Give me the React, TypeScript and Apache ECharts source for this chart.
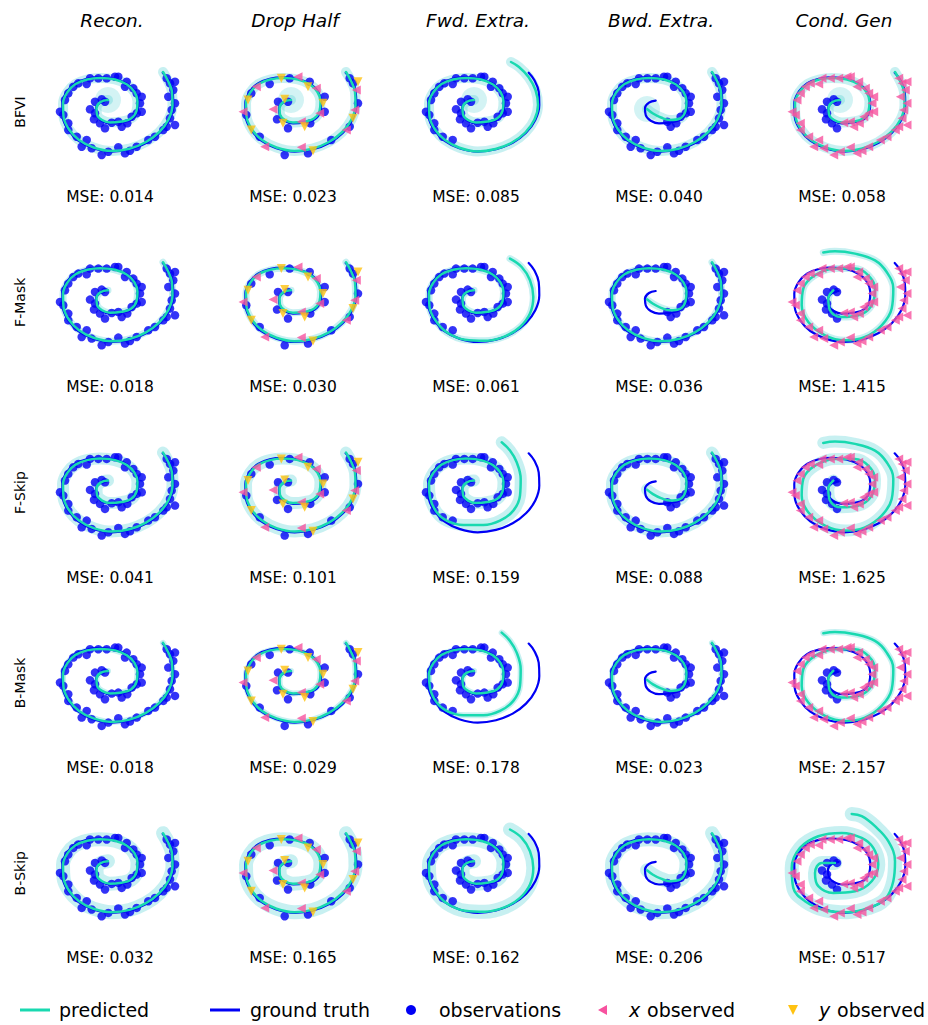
import React, { useEffect, useRef } from "react";
import * as echarts from "echarts";

const methods = ["BFVI", "F-Mask", "F-Skip", "B-Mask", "B-Skip"];
const tasks = ["Recon.", "Drop Half", "Fwd. Extra.", "Bwd. Extra.", "Cond. Gen"];
const mseValues = [
  ["0.014", "0.023", "0.085", "0.040", "0.058"],
  ["0.018", "0.030", "0.061", "0.036", "1.415"],
  ["0.041", "0.101", "0.159", "0.088", "1.625"],
  ["0.018", "0.029", "0.178", "0.023", "2.157"],
  ["0.032", "0.165", "0.162", "0.206", "0.517"],
];

const groundTruth = [
  [-0.33, 0.93], [-1.0, 0.73], [-1.4, 0.17], [-1.33, -0.5], [-0.83, -1.07], [0.0, -1.33],
  [1.17, -1.23], [2.17, -0.93], [2.73, -0.17], [2.83, 0.83], [2.5, 1.83], [1.73, 2.6],
  [0.5, 3.1], [-1.0, 3.27], [-2.33, 3.13], [-3.5, 2.67], [-4.33, 1.83], [-4.77, 0.67],
  [-4.73, -0.67], [-4.17, -2.0], [-3.17, -3.07], [-1.67, -3.83], [0.17, -4.17], [2.0, -3.93],
  [3.67, -3.27], [5.0, -2.27], [5.93, -1.0], [6.33, 0.5], [6.27, 1.83], [5.83, 3.0], [5.27, 3.73],
];

const predFit = [
  [-0.2, 1.0], [-0.95, 0.8], [-1.35, 0.2], [-1.3, -0.45], [-0.8, -1.0], [0.0, -1.25],
  [1.15, -1.15], [2.1, -0.85], [2.65, -0.1], [2.75, 0.85], [2.45, 1.8], [1.7, 2.55],
  [0.5, 3.05], [-1.0, 3.2], [-2.3, 3.05], [-3.45, 2.6], [-4.25, 1.8], [-4.7, 0.65],
  [-4.65, -0.65], [-4.1, -1.95], [-3.1, -3.0], [-1.65, -3.75], [0.15, -4.1], [1.95, -3.87],
  [3.6, -3.2], [4.93, -2.2], [5.85, -0.95], [6.25, 0.5], [6.2, 1.8], [5.78, 2.95], [5.3, 3.8],
];

const predFwdBFVI = [
  [-0.2, 1.0], [-0.95, 0.8], [-1.35, 0.2], [-1.3, -0.45], [-0.8, -1.0], [0.0, -1.25],
  [1.15, -1.15], [2.1, -0.85], [2.65, -0.1], [2.75, 0.85], [2.45, 1.8], [1.7, 2.55],
  [0.5, 3.05], [-1.0, 3.2], [-2.3, 3.05], [-3.45, 2.6], [-4.25, 1.8], [-4.7, 0.65],
  [-4.65, -0.65], [-4.1, -1.95], [-3.1, -3.0], [-1.65, -3.78], [0.15, -4.15], [1.95, -3.9],
  [3.6, -3.25], [4.93, -2.25], [5.85, -0.95], [6.2, 0.5], [5.95, 2.0], [5.25, 3.3], [4.3, 4.3], [3.5, 4.8],
];

const predFwdMild = [
  [-0.2, 1.0], [-0.95, 0.8], [-1.35, 0.2], [-1.3, -0.45], [-0.8, -1.0], [0.0, -1.25],
  [1.15, -1.15], [2.1, -0.85], [2.65, -0.1], [2.75, 0.85], [2.45, 1.8], [1.7, 2.55],
  [0.5, 3.05], [-1.0, 3.2], [-2.3, 3.05], [-3.45, 2.6], [-4.25, 1.8], [-4.7, 0.65],
  [-4.65, -0.65], [-4.1, -1.95], [-2.93, -3.2], [-1.1, -3.95], [0.9, -4.05], [2.9, -3.6],
  [4.4, -2.67], [5.4, -1.33], [5.73, 0.33], [5.4, 2.0], [4.57, 3.33], [3.4, 4.17],
];

const predFwdStrong = [
  [-0.2, 1.0], [-0.95, 0.8], [-1.35, 0.2], [-1.3, -0.45], [-0.8, -1.0], [0.0, -1.25],
  [1.15, -1.15], [2.1, -0.85], [2.65, -0.1], [2.75, 0.85], [2.45, 1.8], [1.7, 2.55],
  [0.5, 3.05], [-1.0, 3.2], [-2.3, 3.05], [-3.45, 2.6], [-4.25, 1.8], [-4.7, 0.65],
  [-4.6, -0.7], [-3.93, -2.17], [-2.93, -3.0], [-1.27, -3.43], [0.73, -3.43], [2.4, -3.0],
  [3.73, -2.0], [4.4, -0.5], [4.47, 1.17], [4.07, 2.83], [3.4, 4.0], [2.57, 4.83],
];

const predBwd = [
  [-1.2, 0.1], [-0.6, -0.35], [0.2, -0.75], [1.1, -1.0], [2.1, -0.85], [2.65, -0.1],
  [2.75, 0.85], [2.45, 1.8], [1.7, 2.55], [0.5, 3.05], [-1.0, 3.2], [-2.3, 3.05],
  [-3.45, 2.6], [-4.25, 1.8], [-4.7, 0.65], [-4.65, -0.65], [-4.1, -1.95], [-3.1, -3.0],
  [-1.65, -3.75], [0.15, -4.1], [1.95, -3.87], [3.6, -3.2], [4.93, -2.2], [5.85, -0.95],
  [6.25, 0.5], [6.2, 1.8], [5.78, 2.95], [5.3, 3.8],
];

const predCond = [
  [-0.87, 1.0], [-1.37, 0.17], [-1.2, -1.0], [-0.03, -1.67], [1.63, -1.5], [2.97, -0.5],
  [3.3, 1.17], [2.63, 2.5], [1.3, 3.17], [-0.7, 3.17], [-2.7, 2.5], [-3.87, 1.17],
  [-4.03, -0.5], [-3.37, -2.17], [-1.7, -3.5], [0.3, -4.0], [2.3, -3.67], [3.97, -2.5],
  [4.97, -0.83], [5.13, 1.17], [4.47, 2.83], [3.3, 4.0], [1.3, 4.67], [-0.7, 4.9], [-1.87, 4.77],
];

const predCondSkip = [
  [-0.7, 0.83], [-2.03, 0.83], [-2.7, -0.17], [-2.37, -1.5], [-0.87, -2.17], [1.3, -2.0],
  [2.97, -1.0], [3.63, 0.67], [3.13, 2.33], [1.97, 3.33], [-0.03, 3.83], [-2.37, 3.5],
  [-4.2, 2.33], [-5.03, 0.33], [-4.87, -1.67], [-3.7, -3.0], [-1.7, -3.9], [0.5, -4.1],
  [2.6, -3.7], [4.3, -2.8], [5.13, -1.0], [5.3, 1.0], [4.63, 3.0], [3.3, 4.5], [1.97, 5.5], [0.97, 5.73],
];

const observations = [
  [-0.5, 0.83], [-0.83, 1.07], [-1.5, 0.83], [-2.0, 0.07], [-1.5, -0.33], [-1.6, -0.93],
  [-1.0, -1.33], [-0.5, -1.83], [0.17, -1.27], [0.83, -1.17], [1.17, -1.67], [1.73, -1.33],
  [2.17, -0.67], [2.67, -0.33], [3.17, -0.17], [3.0, 0.67], [3.17, 1.33], [2.67, 1.67],
  [2.33, 2.17], [1.5, 2.33], [1.67, 2.83], [0.83, 3.33], [0.5, 3.33], [-0.33, 3.17],
  [-1.17, 3.17], [-2.0, 3.17], [-2.33, 2.6], [-3.17, 2.67], [-3.67, 2.33], [-4.17, 1.67],
  [-4.5, 1.0], [-5.0, -0.17], [-4.67, -0.5], [-4.17, -1.33], [-4.17, -2.0], [-3.33, -2.67],
  [-2.33, -3.0], [-2.83, -3.67], [-1.83, -3.83], [-0.83, -4.5], [-0.17, -4.17], [0.83, -3.73],
  [1.5, -4.33], [2.0, -4.07], [2.67, -3.67], [3.83, -3.0], [4.5, -2.67], [5.33, -2.0],
  [5.67, -1.67], [6.5, -1.5], [6.0, -0.83], [6.17, 0.0], [6.5, 0.67], [5.83, 1.33],
  [6.33, 2.0], [6.0, 2.67], [6.5, 2.83], [5.67, 3.17],
];

// Drop-half masks (indices into observations)
const dropFullIdx = [0, 2, 5, 7, 11, 14, 16, 20, 23, 26, 29, 32, 35, 39, 42, 45, 48, 52, 55, 57];
const dropXOnlyIdx = [3, 9, 13, 18, 22, 28, 31, 37, 41, 47, 51, 54];
const dropYOnlyIdx = [1, 6, 10, 15, 19, 24, 30, 34, 43, 50, 56];
const fwdObservedCount = 37;
const bwdObservedStart = 9;
const condFullCount = 8;

const predByKey: Record<string, number[][]> = {
  fit: predFit,
  fwdBFVI: predFwdBFVI,
  fwdMild: predFwdMild,
  fwdStrong: predFwdStrong,
  bwd: predBwd,
  cond: predCond,
  condSkip: predCondSkip,
};

const predChoice = [
  ["fit", "fit", "fwdBFVI", "bwd", "fit"],
  ["fit", "fit", "fwdMild", "bwd", "cond"],
  ["fit", "fit", "fwdStrong", "bwd", "cond"],
  ["fit", "fit", "fwdStrong", "bwd", "cond"],
  ["fit", "fit", "fwdMild", "bwd", "condSkip"],
];

const FONT = '"DejaVu Sans", Verdana, sans-serif';
const C_PRED = "#19d9b0";
const C_BAND = "rgba(70, 205, 210, 0.30)";
const C_GT = "#0000f5";
const C_OBS = "#0000f5";
const C_XOBS = "#f7529f";
const C_YOBS = "#ffc211";
const SYM_LEFT = "path://M0,5L10,0L10,10Z";
const SYM_DOWN = "path://M0,0L10,0L5,10Z";

function pick(idx: number[]) {
  return idx.map((i) => observations[i]);
}

export default function App() {
  const ref = useRef<HTMLDivElement>(null);

  useEffect(() => {
    if (!ref.current) return;
    const chart = echarts.init(ref.current, undefined, { renderer: "svg" });

    const colX = 183;
    const rowY = 190.3;
    const bandWidth = [10, 7, 12, 6, 14];

    const grids: any[] = [];
    const xAxes: any[] = [];
    const yAxes: any[] = [];
    const series: any[] = [];
    const graphics: any[] = [];

    for (let r = 0; r < 5; r++) {
      for (let c = 0; c < 5; c++) {
        const i = r * 5 + c;
        grids.push({ left: 35 + c * colX, top: 45 + r * rowY, width: 155, height: 120 });
        xAxes.push({ gridIndex: i, type: "value", min: -7.5, max: 8, show: false });
        yAxes.push({ gridIndex: i, type: "value", min: -5.5, max: 6.5, show: false });

        const pred = predByKey[predChoice[r][c]];
        const base = { xAxisIndex: i, yAxisIndex: i, silent: true };

        // uncertainty band
        series.push({
          ...base,
          type: "line",
          data: pred,
          smooth: 0.4,
          symbol: "none",
          lineStyle: { color: C_BAND, width: bandWidth[r], cap: "round", join: "round" },
          z: 1,
        });
        if (r === 0) {
          series.push({
            ...base,
            type: "scatter",
            data: [pred[0]],
            symbol: "circle",
            symbolSize: 26,
            itemStyle: { color: "rgba(70, 205, 210, 0.30)" },
            z: 1,
          });
        }
        // ground truth
        series.push({
          ...base,
          type: "line",
          data: groundTruth,
          smooth: 0.4,
          symbol: "none",
          lineStyle: { color: C_GT, width: 2.2, cap: "round" },
          z: 2,
        });

        // observations
        let full: number[][] = [];
        let xOnly: number[][] = [];
        let yOnly: number[][] = [];
        if (c === 0) full = observations;
        else if (c === 1) {
          full = pick(dropFullIdx);
          xOnly = pick(dropXOnlyIdx);
          yOnly = pick(dropYOnlyIdx);
        } else if (c === 2) full = observations.slice(0, fwdObservedCount);
        else if (c === 3) full = observations.slice(bwdObservedStart);
        else {
          full = observations.slice(0, condFullCount);
          xOnly = observations.slice(condFullCount);
        }
        series.push({
          ...base,
          type: "scatter",
          data: full,
          symbol: "circle",
          symbolSize: 8.5,
          itemStyle: { color: C_OBS },
          z: 3,
        });
        // predicted
        series.push({
          ...base,
          type: "line",
          data: pred,
          smooth: 0.4,
          symbol: "none",
          lineStyle: { color: C_PRED, width: 2.5, cap: "round", join: "round" },
          z: 4,
        });
        if (xOnly.length) {
          series.push({
            ...base,
            type: "scatter",
            data: xOnly,
            symbol: SYM_LEFT,
            symbolSize: 9,
            itemStyle: { color: C_XOBS },
            z: 5,
          });
        }
        if (yOnly.length) {
          series.push({
            ...base,
            type: "scatter",
            data: yOnly,
            symbol: SYM_DOWN,
            symbolSize: 9,
            itemStyle: { color: C_YOBS },
            z: 5,
          });
        }

        graphics.push({
          type: "text",
          x: 110 + c * colX,
          y: 197 + r * rowY,
          style: {
            text: "MSE: " + mseValues[r][c],
            font: "15.5px " + FONT,
            fill: "#000",
            textAlign: "center",
            textVerticalAlign: "middle",
            align: "center",
            verticalAlign: "middle",
          },
        });
      }
    }

    tasks.forEach((t, c) => {
      graphics.push({
        type: "text",
        x: 112 + c * colX,
        y: 20,
        style: {
          text: t,
          font: "italic 18.5px " + FONT,
          fill: "#000",
          textAlign: "center",
          textVerticalAlign: "middle",
          align: "center",
          verticalAlign: "middle",
        },
      });
    });
    methods.forEach((m, r) => {
      graphics.push({
        type: "text",
        x: 20,
        y: 112 + r * rowY,
        rotation: Math.PI / 2,
        style: {
          text: m,
          font: "14px " + FONT,
          fill: "#000",
          textAlign: "center",
          textVerticalAlign: "middle",
          align: "center",
          verticalAlign: "middle",
        },
      });
    });

    // legend
    const ly = 1010;
    const legText = (x: number, text: string, italic = false) => ({
      type: "text",
      x,
      y: ly,
      style: {
        text,
        font: (italic ? "italic " : "") + "19px " + FONT,
        fill: "#000",
        textAlign: "left",
        textVerticalAlign: "middle",
        align: "left",
        verticalAlign: "middle",
      },
    });
    graphics.push(
      { type: "line", shape: { x1: 20, y1: ly, x2: 50, y2: ly }, style: { stroke: C_PRED, lineWidth: 3 } },
      legText(59, "predicted"),
      { type: "line", shape: { x1: 210, y1: ly, x2: 240, y2: ly }, style: { stroke: C_GT, lineWidth: 3 } },
      legText(250, "ground truth"),
      { type: "circle", shape: { cx: 411, cy: ly, r: 5 }, style: { fill: C_OBS } },
      legText(439, "observations"),
      { type: "polygon", shape: { points: [[598, ly], [607, ly - 5], [607, ly + 5]] }, style: { fill: C_XOBS } },
      legText(629, "x", true),
      legText(641, " observed"),
      { type: "polygon", shape: { points: [[788, ly - 5], [798, ly - 5], [793, ly + 5]] }, style: { fill: C_YOBS } },
      legText(819, "y", true),
      legText(831, " observed")
    );

    chart.setOption({
      animation: false,
      backgroundColor: "#fff",
      grid: grids,
      xAxis: xAxes,
      yAxis: yAxes,
      series,
      graphic: graphics,
    });

    return () => chart.dispose();
  }, []);

  return (
    <div
      ref={ref}
      style={{ position: "fixed", left: 0, top: 0, width: 928, height: 1025 }}
    />
  );
}
